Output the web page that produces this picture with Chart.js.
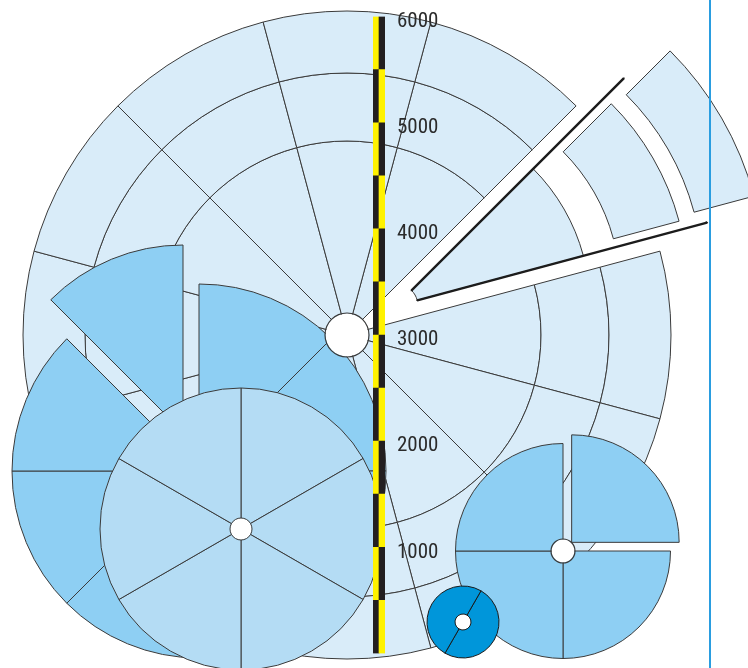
<!DOCTYPE html>
<html>
<head>
<meta charset="utf-8">
<script src="https://cdn.jsdelivr.net/npm/chart.js@4/dist/chart.umd.min.js"></script>
<style>
  html, body { margin: 0; padding: 0; background: #ffffff; overflow: hidden; }
  #stage { position: relative; width: 748px; height: 668px; overflow: hidden; background: #ffffff; }
  #stage canvas { position: absolute; }
  #edge { position: absolute; left: 709px; top: 0; width: 2px; height: 668px; background: #2a9de0; }
</style>
</head>
<body>
<div id="stage"></div>
<script>
// ---------------- data ----------------
const bgSliceValues      = [30, 30, 30, 30, 30, 30, 30, 30, 30, 30, 30, 30];
const fanSliceValues     = [45, 45, 45, 45, 45, 45, 45, 45];
const wheelSliceValues   = [60, 60, 60, 60, 60, 60];
const quadSliceValues    = [90, 90, 90, 90];
const dotSliceValues     = [180, 180];
const rulerSegmentValues = [500, 500, 500, 500, 500, 500, 500, 500, 500, 500, 500, 500];
const rulerTickValues    = [1000, 2000, 3000, 4000, 5000, 6000];
const rulerColumns       = ['left', 'right'];
const bgExplodedSlice    = 1;
const fanExplodedSlice   = 7;
const quadOffsets        = [49, 0, 0, 0];

// ---------------- layout & style ----------------
const LAYOUT = {
  bg:    { cx: 346.5, cy: 334.5, rings: [324, 262, 194], hub: 22, rotation: 15, explode: [57, 92, 109], guide: 322 },
  fan:   { cx: 199, cy: 471, r: 187, explode: 42.5 },
  wheel: { cx: 241, cy: 529, r: 141, hub: 11 },
  quad:  { cx: 563, cy: 551, r: 107.5, hub: 12 },
  dot:   { cx: 462.7, cy: 621.7, r: 36, hub: 8, rotation: 30 },
  ruler: { left: 373, top: 12, bottom: 658, width: 12, axis: 70 }
};
const C = {
  bg: '#d9ecf9', mid: '#8ecff3', light: '#b4dcf4', dark: '#0096da',
  line: '#3a3a3a', guide: '#1c1c1c', yellow: '#fff200', black: '#231f20',
  clear: 'rgba(0,0,0,0)', white: '#ffffff', text: '#2b2b2b'
};
const SLIVER = 0.02; // angular width (deg) of the hairline slices that draw the guide edges

const stage = document.getElementById('stage');

function canvasAt(left, top, w, h) {
  const c = document.createElement('canvas');
  c.width = w; c.height = h;
  c.style.left = left + 'px'; c.style.top = top + 'px';
  c.style.width = w + 'px'; c.style.height = h + 'px';
  stage.appendChild(c);
  return c;
}

function doughnut(cx, cy, R, cutPx, rotation, labels, datasets) {
  const half = Math.ceil(R) + 30;
  const canvas = canvasAt(cx - half, cy - half, 2 * half, 2 * half);
  return new Chart(canvas, {
    type: 'doughnut',
    data: { labels, datasets },
    options: {
      responsive: false, animation: false, events: [],
      radius: R, cutout: (cutPx / R * 100) + '%', rotation,
      layout: { padding: 0 },
      plugins: { legend: { display: false }, tooltip: { enabled: false } }
    }
  });
}

const pick = (n, idx, on, off) => Array.from({ length: n }, (_, i) => (i === idx ? on : off));
const labelsOf = (vals, p) => vals.map((_, i) => p + (i + 1));

function bisector(values, idx, rotation) {
  const total = values.reduce((a, b) => a + b, 0);
  let acc = 0;
  for (let i = 0; i < idx; i++) acc += values[i];
  const deg = rotation - 90 + (acc + values[idx] / 2) / total * 360;
  return deg * Math.PI / 180;
}

function hub(cx, cy, r) {
  const R = r + 0.6;
  doughnut(cx, cy, R, 0, 0, ['hub'], [
    { data: [1], backgroundColor: C.line, borderWidth: 0, weight: 1.2 },
    { data: [1], backgroundColor: C.white, borderWidth: 0, weight: R - 1.2 }
  ]);
}

// ---------------- background wheel ----------------
const bg = LAYOUT.bg;
const bgLabels = labelsOf(bgSliceValues, 'S');
const nBg = bgSliceValues.length;
const bgRingWeights = [bg.rings[0] - bg.rings[1], bg.rings[1] - bg.rings[2], bg.rings[2]];
doughnut(bg.cx, bg.cy, bg.rings[0], 0, bg.rotation, bgLabels, bgRingWeights.map(w => ({
  data: bgSliceValues,
  backgroundColor: pick(nBg, bgExplodedSlice, C.clear, C.bg),
  borderColor: C.line,
  borderWidth: pick(nBg, bgExplodedSlice, 0, 1),
  weight: w
})));

// exploded slice of the background wheel
const bgAng = bisector(bgSliceValues, bgExplodedSlice, bg.rotation);
const ctr = d => [bg.cx + Math.cos(bgAng) * d, bg.cy + Math.sin(bgAng) * d];
const onlyPiece = (fill, border, width) => ({
  data: bgSliceValues,
  backgroundColor: pick(nBg, bgExplodedSlice, fill, C.clear),
  borderColor: border,
  borderWidth: pick(nBg, bgExplodedSlice, width, 0)
});
// guide: the exploded slice split so that only its two straight edges are stroked
const guideValues = [], guideWidths = [];
bgSliceValues.forEach((v, i) => {
  if (i === bgExplodedSlice) {
    guideValues.push(SLIVER, v - 2 * SLIVER, SLIVER);
    guideWidths.push(2.4, 0, 2.4);
  } else {
    guideValues.push(v);
    guideWidths.push(0);
  }
});
{
  const [x0, y0] = ctr(bg.explode[0]);
  doughnut(x0, y0, bg.rings[2], bg.hub, bg.rotation, bgLabels, [onlyPiece(C.bg, C.line, 1)]);
  doughnut(x0, y0, bg.guide, bg.hub, bg.rotation, labelsOf(guideValues, 'G'), [{
    data: guideValues, backgroundColor: C.clear, borderColor: C.guide, borderWidth: guideWidths
  }]);
  const [x1, y1] = ctr(bg.explode[1]);
  doughnut(x1, y1, bg.rings[1], bg.rings[2], bg.rotation, bgLabels, [onlyPiece(C.bg, C.line, 1)]);
  const [x2, y2] = ctr(bg.explode[2]);
  doughnut(x2, y2, bg.rings[0], bg.rings[1], bg.rotation, bgLabels, [onlyPiece(C.bg, C.line, 1)]);
}

// ---------------- medium fan (8 slices) ----------------
const fan = LAYOUT.fan;
const nFan = fanSliceValues.length;
const fanLabels = labelsOf(fanSliceValues, 'F');
doughnut(fan.cx, fan.cy, fan.r, 0, 0, fanLabels, [{
  data: fanSliceValues,
  backgroundColor: pick(nFan, fanExplodedSlice, C.clear, C.mid),
  borderColor: C.line,
  borderWidth: pick(nFan, fanExplodedSlice, 0, 1)
}]);
{
  const a = bisector(fanSliceValues, fanExplodedSlice, 0);
  doughnut(fan.cx + Math.cos(a) * fan.explode, fan.cy + Math.sin(a) * fan.explode, fan.r, 0, 0, fanLabels, [{
    data: fanSliceValues,
    backgroundColor: pick(nFan, fanExplodedSlice, C.mid, C.clear),
    borderColor: C.line,
    borderWidth: pick(nFan, fanExplodedSlice, 1, 0)
  }]);
}

// ---------------- light wheel (6 slices) ----------------
const wh = LAYOUT.wheel;
doughnut(wh.cx, wh.cy, wh.r, 0, 0, labelsOf(wheelSliceValues, 'W'), [
  { data: wheelSliceValues, backgroundColor: C.light, borderColor: C.line, borderWidth: 1, weight: wh.r - wh.hub },
  { data: [1], backgroundColor: C.white, borderWidth: 0, weight: wh.hub }
]);

// background hub (sits above the fan)
hub(bg.cx, bg.cy, bg.hub);

// ---------------- quadrant pie ----------------
const q = LAYOUT.quad;
doughnut(q.cx, q.cy, q.r, 0, 0, labelsOf(quadSliceValues, 'Q'), [{
  data: quadSliceValues, backgroundColor: C.mid, borderColor: C.line, borderWidth: 1, offset: quadOffsets
}]);
hub(q.cx, q.cy, q.hub);

// ---------------- small dark ring ----------------
const dt = LAYOUT.dot;
doughnut(dt.cx, dt.cy, dt.r, 0, dt.rotation, labelsOf(dotSliceValues, 'D'), [
  { data: dotSliceValues, backgroundColor: C.dark, borderColor: '#1a1a1a', borderWidth: 1, weight: dt.r - dt.hub },
  { data: [1], backgroundColor: C.white, borderWidth: 0, weight: dt.hub }
]);

// ---------------- ruler ----------------
const ru = LAYOUT.ruler;
const padV = 20;
const rulerCanvas = canvasAt(ru.left, ru.top - padV, ru.width + ru.axis, (ru.bottom - ru.top) + 2 * padV);
new Chart(rulerCanvas, {
  type: 'bar',
  data: {
    labels: rulerColumns,
    datasets: rulerSegmentValues.map((v, i) => ({
      data: rulerColumns.map(() => v),
      backgroundColor: i % 2 === 0 ? [C.black, C.yellow] : [C.yellow, C.black],
      borderWidth: 0,
      barPercentage: 1,
      categoryPercentage: 1
    }))
  },
  options: {
    responsive: false, animation: false, events: [],
    layout: { padding: { top: padV, bottom: padV, left: 0, right: 0 } },
    plugins: { legend: { display: false }, tooltip: { enabled: false } },
    scales: {
      x: { stacked: true, display: false },
      y: {
        stacked: true, position: 'right', min: 0, max: 6000,
        grid: { display: false, drawTicks: false },
        border: { display: false },
        afterBuildTicks: s => { s.ticks = rulerTickValues.map(v => ({ value: v })); },
        afterFit: s => { s.width = ru.axis; },
        ticks: {
          padding: 12, labelOffset: 5, color: C.text,
          font: { family: "'Roboto Condensed', 'Open Sans', 'DejaVu Sans Condensed', sans-serif", size: 21, weight: 'condensed' },
          callback: v => String(v)
        }
      }
    }
  }
});

// right frame line
const edge = document.createElement('div');
edge.id = 'edge';
stage.appendChild(edge);
</script>
</body>
</html>
